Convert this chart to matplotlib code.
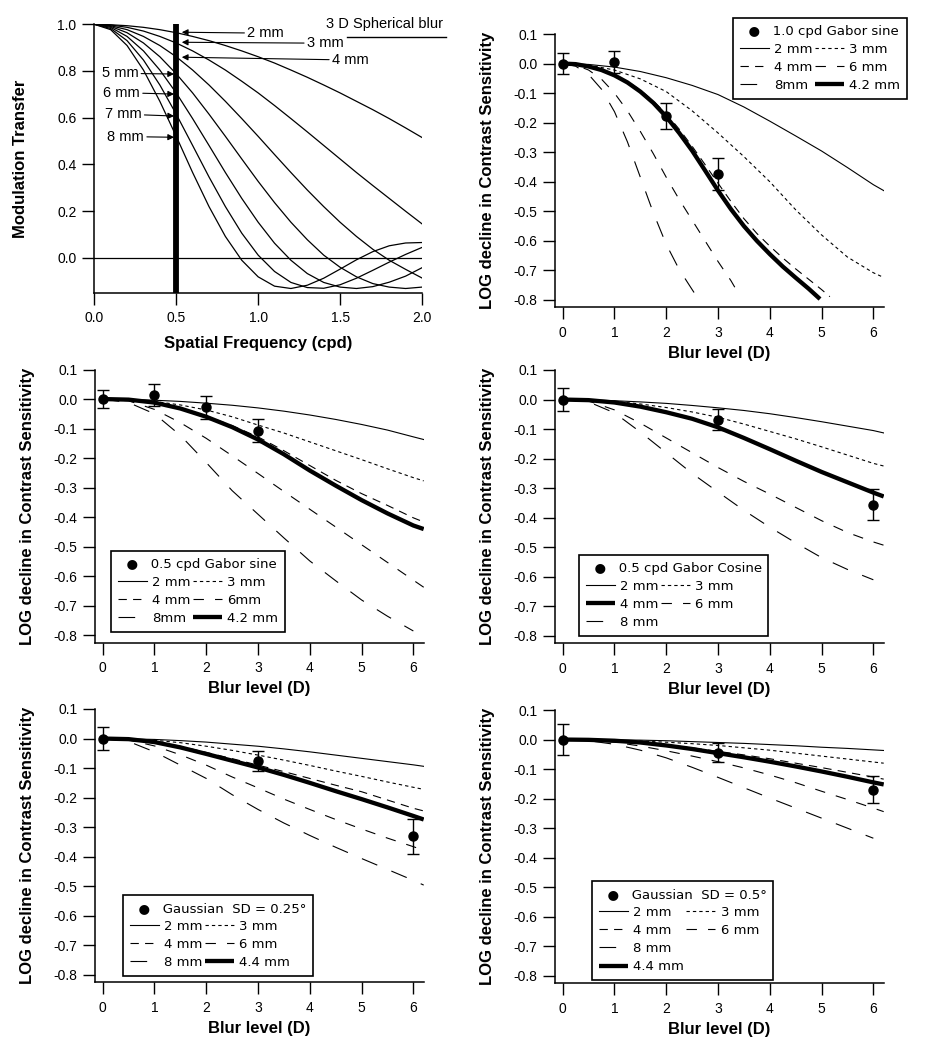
import matplotlib
matplotlib.use("Agg")
import matplotlib.pyplot as plt
from matplotlib.lines import Line2D

plt.rcParams['font.family'] = ['Liberation Sans', 'DejaVu Sans']
plt.rcParams['axes.unicode_minus'] = False
plt.rcParams['lines.scale_dashes'] = False

# ---------------- Panel A: MTF for 3 D spherical blur ----------------
spatial_freq = [0.0, 0.1, 0.2, 0.3, 0.4, 0.5, 0.6, 0.7, 0.8, 0.9, 1.0,
                1.1, 1.2, 1.3, 1.4, 1.5, 1.6, 1.7, 1.8, 1.9, 2.0]
mtf_2mm = [1.0, 0.998, 0.994, 0.987, 0.977, 0.964, 0.948, 0.930, 0.909, 0.886, 0.861,
           0.834, 0.804, 0.773, 0.740, 0.706, 0.670, 0.634, 0.596, 0.556, 0.515]
mtf_3mm = [1.0, 0.997, 0.987, 0.971, 0.948, 0.920, 0.886, 0.847, 0.804, 0.756, 0.706,
           0.652, 0.596, 0.539, 0.481, 0.423, 0.365, 0.309, 0.254, 0.199, 0.145]
mtf_4mm = [1.0, 0.994, 0.977, 0.948, 0.909, 0.861, 0.804, 0.740, 0.670, 0.596, 0.520,
           0.442, 0.365, 0.290, 0.219, 0.152, 0.091, 0.036, -0.011, -0.050, -0.087]
mtf_5mm = [1.0, 0.991, 0.964, 0.920, 0.861, 0.788, 0.706, 0.615, 0.520, 0.423, 0.327,
           0.236, 0.152, 0.077, 0.011, -0.041, -0.082, -0.111, -0.126, -0.132, -0.126]
mtf_6mm = [1.0, 0.987, 0.948, 0.886, 0.804, 0.706, 0.596, 0.481, 0.365, 0.254, 0.152,
           0.062, -0.011, -0.068, -0.106, -0.126, -0.132, -0.124, -0.105, -0.079, -0.043]
mtf_7mm = [1.0, 0.982, 0.930, 0.847, 0.740, 0.615, 0.481, 0.346, 0.219, 0.105, 0.011,
           -0.059, -0.106, -0.128, -0.131, -0.116, -0.088, -0.054, -0.019, 0.014, 0.044]
mtf_8mm = [1.0, 0.977, 0.909, 0.804, 0.670, 0.520, 0.365, 0.219, 0.091, -0.011, -0.082,
           -0.122, -0.132, -0.118, -0.088, -0.049, -0.009, 0.026, 0.051, 0.063, 0.065]
mtf_curves = [mtf_2mm, mtf_3mm, mtf_4mm, mtf_5mm, mtf_6mm, mtf_7mm, mtf_8mm]
mtf_xticks = [0.0, 0.5, 1.0, 1.5, 2.0]
mtf_xticklabels = ['0.0', '0.5', '1.0', '1.5', '2.0']
mtf_yticks = [0.0, 0.2, 0.4, 0.6, 0.8, 1.0]
mtf_yticklabels = ['0.0', '0.2', '0.4', '0.6', '0.8', '1.0']
test_freq = 0.5

# ---------------- common axis data for blur panels ----------------
blur_grid = [0, 0.5, 1, 1.5, 2, 2.5, 3, 3.5, 4, 4.5, 5, 5.5, 6, 6.2]
blur_grid_to6 = [0, 0.5, 1, 1.5, 2, 2.5, 3, 3.5, 4, 4.5, 5, 5.5, 6]
blur_ticks = [0, 1, 2, 3, 4, 5, 6]
cs_ticks = [0.1, 0.0, -0.1, -0.2, -0.3, -0.4, -0.5, -0.6, -0.7, -0.8]
cs_ticklabels = ['0.1', '0.0', '-0.1', '-0.2', '-0.3', '-0.4', '-0.5', '-0.6', '-0.7', '-0.8']

# ---------------- Panel B: 1.0 cpd Gabor sine ----------------
B_pts_x = [0, 1, 2, 3]
B_pts_y = [0.0, 0.004, -0.176, -0.374]
B_pts_err = [0.035, 0.037, 0.044, 0.055]
B_2mm = [0, -0.003, -0.012, -0.027, -0.048, -0.074, -0.105, -0.147, -0.195, -0.245, -0.296, -0.352, -0.41, -0.43]
B_3mm = [0, -0.005, -0.022, -0.052, -0.095, -0.16, -0.235, -0.315, -0.40, -0.495, -0.58, -0.655, -0.708, -0.724]
B_4mm_x = [0, 0.25, 0.5, 0.75, 1, 1.25, 1.5, 1.75, 2, 2.25, 2.5, 2.75, 3, 3.25, 3.5,
           3.75, 4, 4.25, 4.5, 4.75, 5, 5.16]
B_4mm = [0, -0.002, -0.009, -0.02, -0.037, -0.06, -0.09, -0.127, -0.17, -0.222, -0.28,
         -0.342, -0.405, -0.467, -0.525, -0.575, -0.618, -0.658, -0.695, -0.73, -0.765, -0.789]
B_42mm_x = [0, 0.25, 0.5, 0.75, 1, 1.25, 1.5, 1.75, 2, 2.25, 2.5, 2.75, 3, 3.25, 3.5,
            3.75, 4, 4.25, 4.5, 4.75, 4.97]
B_42mm = [0, -0.002, -0.01, -0.022, -0.04, -0.064, -0.095, -0.133, -0.18, -0.235, -0.295,
          -0.362, -0.43, -0.493, -0.55, -0.6, -0.645, -0.687, -0.725, -0.762, -0.797]
B_6mm_x = [0, 0.25, 0.5, 0.75, 1, 1.25, 1.5, 1.75, 2, 2.25, 2.5, 2.75, 3, 3.25, 3.39]
B_6mm = [0, -0.005, -0.022, -0.053, -0.1, -0.16, -0.23, -0.305, -0.385, -0.46, -0.53,
         -0.6, -0.67, -0.735, -0.777]
B_8mm_x = [0, 0.25, 0.5, 0.75, 1, 1.25, 1.5, 1.75, 2, 2.25, 2.5, 2.62]
B_8mm = [0, -0.009, -0.037, -0.087, -0.163, -0.265, -0.385, -0.505, -0.612, -0.697, -0.765, -0.797]

# ---------------- Panel C: 0.5 cpd Gabor sine ----------------
C_pts_x = [0, 1, 2, 3]
C_pts_y = [0.0, 0.014, -0.028, -0.108]
C_pts_err = [0.031, 0.037, 0.04, 0.039]
C_2mm = [0, -0.001, -0.004, -0.008, -0.014, -0.021, -0.03, -0.041, -0.054, -0.069, -0.086, -0.105, -0.128, -0.137]
C_3mm = [0, -0.001, -0.008, -0.02, -0.037, -0.06, -0.088, -0.115, -0.145, -0.175, -0.205, -0.236, -0.266, -0.277]
C_4mm = [0, -0.002, -0.011, -0.03, -0.057, -0.09, -0.128, -0.175, -0.225, -0.275, -0.32, -0.36, -0.402, -0.416]
C_42mm = [0, -0.002, -0.012, -0.032, -0.06, -0.095, -0.137, -0.187, -0.242, -0.293, -0.342, -0.387, -0.428, -0.44]
C_6mm = [0, -0.006, -0.035, -0.08, -0.133, -0.192, -0.252, -0.313, -0.373, -0.433, -0.493, -0.553, -0.613, -0.637]
C_8mm = [0, -0.012, -0.05, -0.123, -0.215, -0.31, -0.39, -0.47, -0.548, -0.615, -0.68, -0.735, -0.785]

# ---------------- Panel D: 0.5 cpd Gabor Cosine ----------------
D_pts_x = [0, 3, 6]
D_pts_y = [0.0, -0.068, -0.356]
D_pts_err = [0.04, 0.036, 0.052]
D_2mm = [0, -0.001, -0.004, -0.008, -0.013, -0.02, -0.028, -0.037, -0.048, -0.061, -0.075, -0.09, -0.105, -0.113]
D_3mm = [0, -0.001, -0.006, -0.015, -0.027, -0.042, -0.06, -0.083, -0.108, -0.133, -0.16, -0.188, -0.216, -0.225]
D_4mm = [0, -0.002, -0.01, -0.024, -0.043, -0.065, -0.094, -0.13, -0.168, -0.207, -0.245, -0.28, -0.315, -0.328]
D_6mm = [0, -0.005, -0.035, -0.08, -0.13, -0.18, -0.23, -0.277, -0.32, -0.365, -0.41, -0.45, -0.482, -0.493]
D_8mm = [0, -0.008, -0.045, -0.11, -0.18, -0.25, -0.313, -0.375, -0.432, -0.485, -0.535, -0.575, -0.61]

# ---------------- Panel E: Gaussian SD = 0.25 deg ----------------
E_pts_x = [0, 3, 6]
E_pts_y = [0.0, -0.075, -0.331]
E_pts_err = [0.04, 0.034, 0.06]
E_2mm = [0, -0.001, -0.003, -0.007, -0.012, -0.019, -0.026, -0.035, -0.045, -0.056, -0.067, -0.078, -0.089, -0.094]
E_3mm = [0, -0.001, -0.006, -0.014, -0.026, -0.04, -0.056, -0.073, -0.091, -0.11, -0.128, -0.147, -0.165, -0.172]
E_4mm = [0, -0.002, -0.01, -0.026, -0.047, -0.068, -0.09, -0.112, -0.135, -0.158, -0.18, -0.208, -0.236, -0.245]
E_44mm = [0, -0.002, -0.012, -0.03, -0.052, -0.075, -0.098, -0.123, -0.15, -0.178, -0.205, -0.233, -0.262, -0.274]
E_6mm = [0, -0.005, -0.025, -0.055, -0.09, -0.13, -0.167, -0.205, -0.24, -0.274, -0.306, -0.337, -0.366, -0.378]
E_8mm = [0, -0.01, -0.045, -0.09, -0.135, -0.19, -0.24, -0.286, -0.328, -0.368, -0.406, -0.443, -0.48, -0.496]

# ---------------- Panel F: Gaussian SD = 0.5 deg ----------------
F_pts_x = [0, 3, 6]
F_pts_y = [0.0, -0.044, -0.17]
F_pts_err = [0.052, 0.033, 0.045]
F_2mm = [0, 0.0, -0.001, -0.002, -0.004, -0.007, -0.01, -0.013, -0.017, -0.021, -0.026, -0.03, -0.035, -0.037]
F_3mm = [0, 0.0, -0.002, -0.005, -0.009, -0.014, -0.02, -0.028, -0.036, -0.046, -0.056, -0.066, -0.076, -0.08]
F_4mm = [0, -0.001, -0.004, -0.01, -0.018, -0.028, -0.04, -0.052, -0.065, -0.08, -0.095, -0.111, -0.127, -0.134]
F_44mm = [0, -0.001, -0.004, -0.01, -0.02, -0.032, -0.046, -0.06, -0.075, -0.091, -0.108, -0.126, -0.145, -0.152]
F_6mm = [0, -0.002, -0.009, -0.022, -0.038, -0.056, -0.075, -0.096, -0.12, -0.146, -0.175, -0.203, -0.232, -0.244]
F_8mm = [0, -0.004, -0.016, -0.036, -0.062, -0.094, -0.128, -0.163, -0.198, -0.232, -0.266, -0.3, -0.334]

# ---------------- styles ----------------
st_2 = dict(color='black', lw=0.8, linestyle='-')
st_3 = dict(color='black', lw=0.8, linestyle=(0, (2.4, 2.2)))
st_4 = dict(color='black', lw=0.8, linestyle=(0, (6.0, 4.5)))
st_6 = dict(color='black', lw=0.8, linestyle=(0, (7.5, 8.0)))
st_8 = dict(color='black', lw=0.8, linestyle=(0, (12.0, 11.0)))
st_thick = dict(color='black', lw=3.1, linestyle='-', solid_capstyle='butt')

W, H = 927, 1050
fig = plt.figure(figsize=(W / 100, H / 100), dpi=100)


def box(left_px, top_px, width_px, height_px):
    return [left_px / W, 1 - (top_px + height_px) / H, width_px / W, height_px / H]


def base_style(ax):
    for s in ('top', 'right'):
        ax.spines[s].set_visible(False)
    for s in ('left', 'bottom'):
        ax.spines[s].set_linewidth(1.1)
    ax.tick_params(axis='both', direction='out', length=8.6, width=1.0, labelsize=10)
    ax.tick_params(axis='y', pad=4.3)
    ax.tick_params(axis='x', pad=4.8)


# ---------------- Panel A ----------------
axA = fig.add_axes(box(94.3, 24.3, 327.7, 268.4))
for curve in mtf_curves:
    axA.plot(spatial_freq, curve, color='black', lw=0.9)
axA.axhline(0.0, color='black', lw=0.9)
axA.axvline(test_freq, color='black', lw=4.2, solid_capstyle='butt')
axA.set_xlim(0, 2.0)
axA.set_ylim(-0.15, 1.0)
axA.set_xticks(mtf_xticks)
axA.set_xticklabels(mtf_xticklabels)
axA.set_yticks(mtf_yticks)
axA.set_yticklabels(mtf_yticklabels)
base_style(axA)
axA.set_ylabel('Modulation Transfer', fontsize=12, fontweight='bold')
axA.set_xlabel('Spatial Frequency (cpd)', fontsize=12, fontweight='bold')
axA.yaxis.set_label_coords(-0.201, 0.5)
axA.xaxis.set_label_coords(0.5, -0.161)

arrow_kw = dict(arrowstyle='-|>', color='black', lw=0.8, shrinkA=0, shrinkB=0,
                mutation_scale=9)
ann_kw = dict(fontsize=10.5, va='center')
axA.annotate('2 mm', xy=(0.534, 0.966), xytext=(0.933, 0.962), ha='left',
             arrowprops=arrow_kw, **ann_kw)
axA.annotate('3 mm', xy=(0.534, 0.923), xytext=(1.297, 0.919), ha='left',
             arrowprops=arrow_kw, **ann_kw)
axA.annotate('4 mm', xy=(0.534, 0.859), xytext=(1.450, 0.847), ha='left',
             arrowprops=arrow_kw, **ann_kw)
axA.annotate('5 mm', xy=(0.487, 0.787), xytext=(0.269, 0.790), ha='right',
             arrowprops=arrow_kw, **ann_kw)
axA.annotate('6 mm', xy=(0.487, 0.701), xytext=(0.279, 0.707), ha='right',
             arrowprops=arrow_kw, **ann_kw)
axA.annotate('7 mm', xy=(0.487, 0.607), xytext=(0.289, 0.615), ha='right',
             arrowprops=arrow_kw, **ann_kw)
axA.annotate('8 mm', xy=(0.487, 0.516), xytext=(0.304, 0.519), ha='right',
             arrowprops=arrow_kw, **ann_kw)
axA.text(1.064, 1.0, '3 D Spherical blur', transform=axA.transAxes, ha='right',
         va='center', fontsize=10.5)
axA.add_line(Line2D([0.771, 1.073], [0.9516, 0.9516], transform=axA.transAxes,
                    color='black', lw=1.0, clip_on=False))

# ---------------- blur panels ----------------


def blur_axes(left_px, top_px):
    ax = fig.add_axes(box(left_px, top_px, 328.5, 273.3))
    ax.set_xlim(-0.145, 6.2)
    ax.set_ylim(-0.825, 0.1)
    ax.set_xticks(blur_ticks)
    ax.set_yticks(cs_ticks)
    ax.set_yticklabels(cs_ticklabels)
    base_style(ax)
    ax.set_ylabel('LOG decline in Contrast Sensitivity', fontsize=12, fontweight='bold')
    ax.set_xlabel('Blur level (D)', fontsize=12, fontweight='bold')
    ax.yaxis.set_label_coords(-0.183, 0.5)
    ax.xaxis.set_label_coords(0.5, -0.141)
    return ax


def points(ax, x, y, err):
    ax.errorbar(x, y, yerr=err, fmt='o', color='black', ms=6.5, capsize=4.3,
                elinewidth=1.0, capthick=1.0, zorder=6)


blank = Line2D([], [], linestyle='none')


def legend(ax, title, handles, labels, left_px, top_px):
    leg = ax.legend(handles, labels, ncol=2, title=title, loc='upper left',
                    bbox_to_anchor=(left_px / W, 1 - top_px / H),
                    bbox_transform=fig.transFigure, borderaxespad=0,
                    frameon=True, fancybox=False, shadow=False,
                    prop={'family': ['DejaVu Sans'], 'size': 9.5},
                    title_fontproperties={'family': ['DejaVu Sans'], 'size': 9.5},
                    handlelength=2.2, handletextpad=0.43, columnspacing=0.15,
                    labelspacing=0.39, borderpad=0.5, alignment='left')
    fr = leg.get_frame()
    fr.set_edgecolor('black')
    fr.set_linewidth(1.2)
    fr.set_facecolor('white')
    fr.set_alpha(1.0)
    leg.set_zorder(10)
    return leg


# Panel B
axB = blur_axes(555.2, 34.0)
h2, = axB.plot(blur_grid, B_2mm, **st_2)
h3, = axB.plot(blur_grid, B_3mm, **st_3)
h4, = axB.plot(B_4mm_x, B_4mm, **st_4)
h6, = axB.plot(B_6mm_x, B_6mm, **st_6)
h8, = axB.plot(B_8mm_x, B_8mm, **st_8)
hT, = axB.plot(B_42mm_x, B_42mm, **st_thick)
points(axB, B_pts_x, B_pts_y, B_pts_err)
legend(axB, '  \u25cf   1.0 cpd Gabor sine', [h2, h4, h8, h3, h6, hT],
       ['2 mm', '4 mm', '8mm', '3 mm', '6 mm', '4.2 mm'], 733, 18)

# Panel C
axC = blur_axes(95.2, 369.5)
h2, = axC.plot(blur_grid, C_2mm, **st_2)
h3, = axC.plot(blur_grid, C_3mm, **st_3)
h4, = axC.plot(blur_grid, C_4mm, **st_4)
h6, = axC.plot(blur_grid, C_6mm, **st_6)
h8, = axC.plot(blur_grid_to6, C_8mm, **st_8)
hT, = axC.plot(blur_grid, C_42mm, **st_thick)
points(axC, C_pts_x, C_pts_y, C_pts_err)
legend(axC, '  \u25cf   0.5 cpd Gabor sine', [h2, h4, h8, h3, h6, hT],
       ['2 mm', '4 mm', '8mm', '3 mm', '6mm', '4.2 mm'], 111, 551)

# Panel D
axD = blur_axes(555.2, 370.0)
h2, = axD.plot(blur_grid, D_2mm, **st_2)
h3, = axD.plot(blur_grid, D_3mm, **st_3)
hT, = axD.plot(blur_grid, D_4mm, **st_thick)
h6, = axD.plot(blur_grid, D_6mm, **st_6)
h8, = axD.plot(blur_grid_to6, D_8mm, **st_8)
points(axD, D_pts_x, D_pts_y, D_pts_err)
legend(axD, '  \u25cf   0.5 cpd Gabor Cosine', [h2, hT, h8, h3, h6, blank],
       ['2 mm', '4 mm', '8 mm', '3 mm', '6 mm', ' '], 579, 555)

# Panel E
axE = blur_axes(95.2, 709.0)
h2, = axE.plot(blur_grid, E_2mm, **st_2)
h3, = axE.plot(blur_grid, E_3mm, **st_3)
h4, = axE.plot(blur_grid, E_4mm, **st_4)
h6, = axE.plot(blur_grid, E_6mm, **st_6)
h8, = axE.plot(blur_grid, E_8mm, **st_8)
hT, = axE.plot(blur_grid, E_44mm, **st_thick)
points(axE, E_pts_x, E_pts_y, E_pts_err)
legend(axE, '  \u25cf   Gaussian  SD = 0.25\u00b0', [h2, h4, h8, h3, h6, hT],
       ['2 mm', '4 mm', '8 mm', '3 mm', '6 mm', '4.4 mm'], 123, 895)

# Panel F
axF = blur_axes(555.2, 710.0)
h2, = axF.plot(blur_grid, F_2mm, **st_2)
h3, = axF.plot(blur_grid, F_3mm, **st_3)
h4, = axF.plot(blur_grid, F_4mm, **st_4)
h6, = axF.plot(blur_grid, F_6mm, **st_6)
h8, = axF.plot(blur_grid_to6, F_8mm, **st_8)
hT, = axF.plot(blur_grid, F_44mm, **st_thick)
points(axF, F_pts_x, F_pts_y, F_pts_err)
legend(axF, '  \u25cf   Gaussian  SD = 0.5\u00b0', [h2, h4, h8, hT, h3, h6, blank, blank],
       ['2 mm', '4 mm', '8 mm', '4.4 mm', '3 mm', '6 mm', ' ', ' '], 592, 881)

fig.savefig('out.png', dpi=100)
